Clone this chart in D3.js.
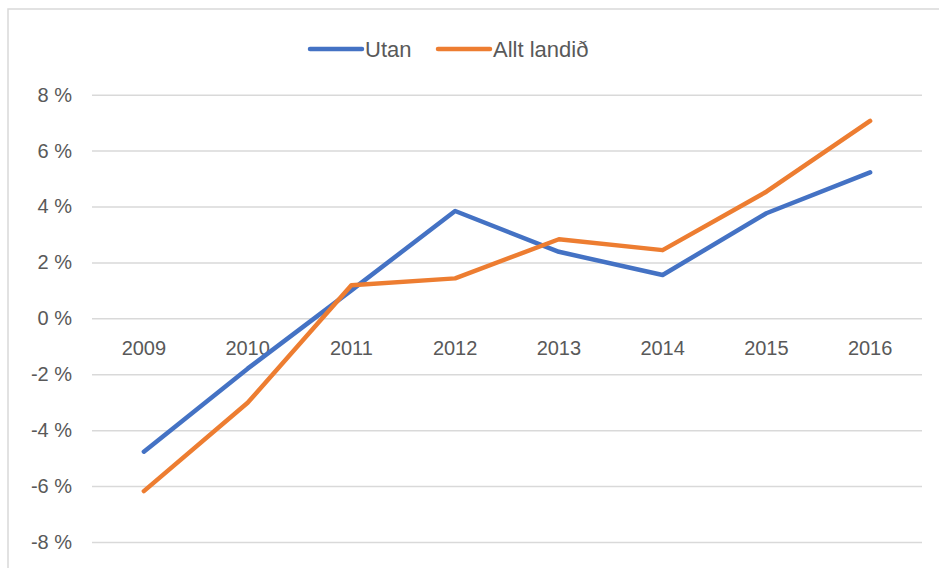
<!DOCTYPE html>
<html>
<head>
<meta charset="utf-8">
<script src="https://cdn.jsdelivr.net/npm/d3@7/dist/d3.min.js"></script>
<style>
  body { margin: 0; background: #fff; }
  svg { display: block; }
</style>
</head>
<body>
<div id="chart"></div>
<script>
// data
const years = ["2009", "2010", "2011", "2012", "2013", "2014", "2015", "2016"];
const utan = [-4.77, -1.8, 1.0, 3.84, 2.38, 1.55, 3.76, 5.22];
const alltLandid = [-6.18, -3.02, 1.18, 1.43, 2.83, 2.44, 4.53, 7.06];
const yTicks = [-8, -6, -4, -2, 0, 2, 4, 6, 8];

const series = [
  { name: "Utan", values: utan, color: "#4472C4" },
  { name: "Allt landið", values: alltLandid, color: "#ED7D31" }
];

const width = 939, height = 568;
const plot = { left: 92, right: 922, top: 94.7, bottom: 542 };

const svg = d3.select("#chart")
  .append("svg")
    .attr("width", width)
    .attr("height", height);

// chart area border
svg.append("rect")
  .attr("x", 8).attr("y", 9)
  .attr("width", 960).attr("height", 600)
  .attr("fill", "#fff")
  .attr("stroke", "#d9d9d9")
  .attr("stroke-width", 1.5);

const x = d3.scaleBand()
  .domain(years)
  .range([plot.left, plot.right]);

const y = d3.scaleLinear()
  .domain([-8, 8])
  .range([plot.bottom, plot.top]);

// gridlines + y labels
const yAxis = d3.axisLeft(y)
  .tickValues(yTicks)
  .tickSize(-(plot.right - plot.left))
  .tickPadding(20)
  .tickFormat(d => d + " %");

svg.append("g")
  .attr("transform", `translate(${plot.left},0)`)
  .call(yAxis)
  .call(g => g.select(".domain").remove())
  .call(g => g.selectAll(".tick line").attr("stroke", "#d9d9d9").attr("stroke-width", 1.5))
  .call(g => g.selectAll(".tick text")
    .attr("fill", "#595959")
    .style("font-family", "Liberation Sans, Arial, sans-serif")
    .style("font-size", "20px"));

// category labels sit just under the 0 % line
const xAxis = d3.axisBottom(x).tickSize(0).tickPadding(22);
svg.append("g")
  .attr("transform", `translate(0,${y(0)})`)
  .call(xAxis)
  .call(g => g.select(".domain").remove())
  .call(g => g.selectAll(".tick text")
    .attr("fill", "#595959")
    .style("font-family", "Liberation Sans, Arial, sans-serif")
    .style("font-size", "20px"));

const line = d3.line()
  .x((d, i) => x(years[i]) + x.bandwidth() / 2)
  .y(d => y(d));

svg.selectAll("path.series")
  .data(series)
  .join("path")
    .attr("class", "series")
    .attr("d", d => line(d.values))
    .attr("fill", "none")
    .attr("stroke", d => d.color)
    .attr("stroke-width", 4.5)
    .attr("stroke-linecap", "round")
    .attr("stroke-linejoin", "round");

// legend
const legendX = [310, 438];
const legend = svg.selectAll("g.legend")
  .data(series)
  .join("g")
    .attr("class", "legend")
    .attr("transform", (d, i) => `translate(${legendX[i]},49)`);

legend.append("line")
  .attr("x1", 0).attr("x2", 52)
  .attr("stroke", d => d.color)
  .attr("stroke-width", 4.5)
  .attr("stroke-linecap", "round");

legend.append("text")
  .attr("x", 55)
  .attr("dy", "0.36em")
  .attr("fill", "#595959")
  .style("font-family", "Liberation Sans, Arial, sans-serif")
  .style("font-size", "22px")
  .text(d => d.name);
</script>
</body>
</html>
